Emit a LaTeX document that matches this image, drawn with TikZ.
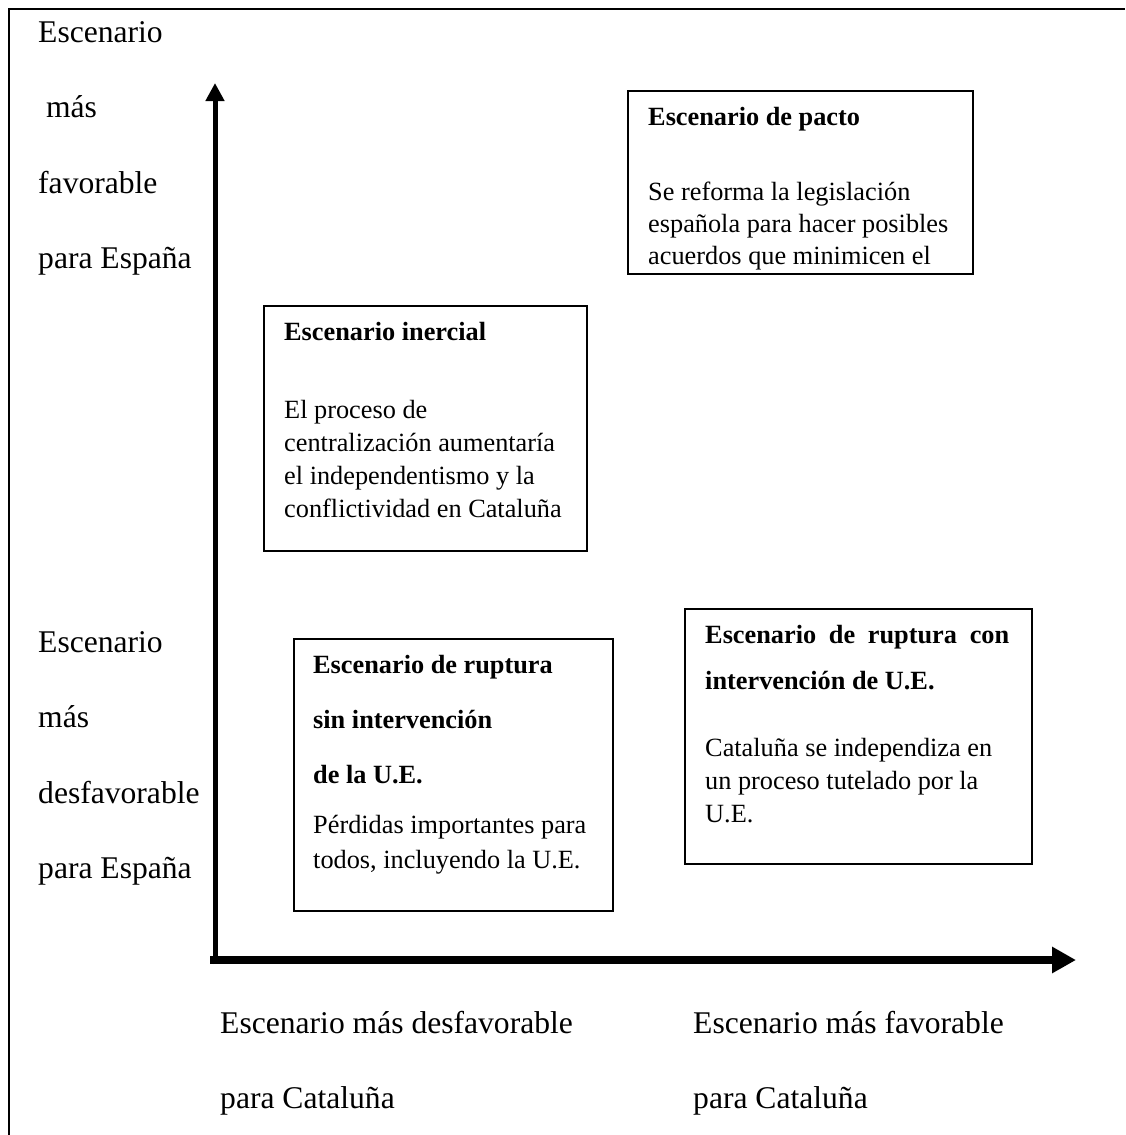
\documentclass[tikz,border=0pt]{standalone}
\usepackage{fontspec}
\setmainfont{Liberation Serif}
\usetikzlibrary{arrows.meta}
\begin{document}
\begin{tikzpicture}[x=1pt,y=-1pt,
  ax/.style={anchor=base west, inner sep=0pt, font=\fontsize{31.6}{36}\selectfont},
  bx/.style={anchor=base west, inner sep=0pt, font=\fontsize{26.3}{30}\selectfont},
  bt/.style={anchor=base west, inner sep=0pt, font=\fontsize{26.3}{30}\selectfont\bfseries},
  frame/.style={draw, line width=1.5pt, inner sep=0pt, anchor=north west},
  yaxis/.style={line width=5pt, -{Triangle[length=18pt,width=18pt]}},
  xaxis/.style={line width=8pt, -{Triangle[length=24pt,width=25pt]}}]
\useasboundingbox (0,0) rectangle (1125,1135);
% outer frame (left and top edges only visible)
\draw[line width=2pt] (9,1135) -- (9,9) -- (1125,9);
% axes
\coordinate (ybot) at (215,964);
\coordinate (ytop) at (215,83);
\coordinate (xleft) at (210,960);
\coordinate (xtip) at (1076,960);
\draw[yaxis] (ybot) -- (ytop);
\draw[xaxis] (xleft) -- (xtip);
% left axis labels (top)
\node[ax] (t1) at (38,42) {Escenario};
\node[ax] (t2) at (38,117) {\ más};
\node[ax] (t3) at (38,193) {favorable};
\node[ax] (t4) at (38,268) {para España};
% left axis labels (bottom)
\node[ax] (b1) at (38,652) {Escenario};
\node[ax] (b2) at (38,727) {más};
\node[ax] (b3) at (38,803) {desfavorable};
\node[ax] (b4) at (38,878) {para España};
% bottom axis labels
\node[ax] (c1) at (220,1033) {Escenario más desfavorable};
\node[ax] (c2) at (220,1108) {para Cataluña};
\node[ax] (c3) at (693,1033) {Escenario más favorable};
\node[ax] (c4) at (693,1108) {para Cataluña};
% box: pacto
\node[frame, minimum width=345pt, minimum height=183pt] (pacto) at (627,90) {};
\node[bt] (p0) at (648,125) {Escenario de pacto};
\node[bx] (p1) at (648,200) {Se reforma la legislación};
\node[bx] (p2) at (648,232) {española para hacer posibles};
\node[bx] (p3) at (648,264) {acuerdos que minimicen el};
% box: inercial
\node[frame, minimum width=323pt, minimum height=245pt] (inercial) at (263,305) {};
\node[bt] (i0) at (284,340) {Escenario inercial};
\node[bx] (i1) at (284,418) {El proceso de};
\node[bx] (i2) at (284,451) {centralización aumentaría};
\node[bx] (i3) at (284,484) {el independentismo y la};
\node[bx] (i4) at (284,517) {conflictividad en Cataluña};
% box: ruptura sin intervencion
\node[frame, minimum width=319pt, minimum height=272pt] (sin) at (293,638) {};
\node[bt] (s0) at (313,673) {Escenario de ruptura};
\node[bt] (s1) at (313,728) {sin intervención};
\node[bt] (s2) at (313,783) {de la U.E.};
\node[bx] (s3) at (313,833) {Pérdidas importantes para};
\node[bx] (s4) at (313,868) {todos, incluyendo la U.E.};
% box: ruptura con intervencion
\node[frame, minimum width=347pt, minimum height=255pt] (con) at (684,608) {};
\node[bt] (k0) at (705,643) {\makebox[304pt][s]{Escenario\hfill de\hfill ruptura\hfill con}};
\node[bt] (k1) at (705,689) {intervención de U.E.};
\node[bx] (k2) at (705,756) {Cataluña se independiza en};
\node[bx] (k3) at (705,789) {un proceso tutelado por la};
\node[bx] (k4) at (705,822) {U.E.};
\end{tikzpicture}
\end{document}
